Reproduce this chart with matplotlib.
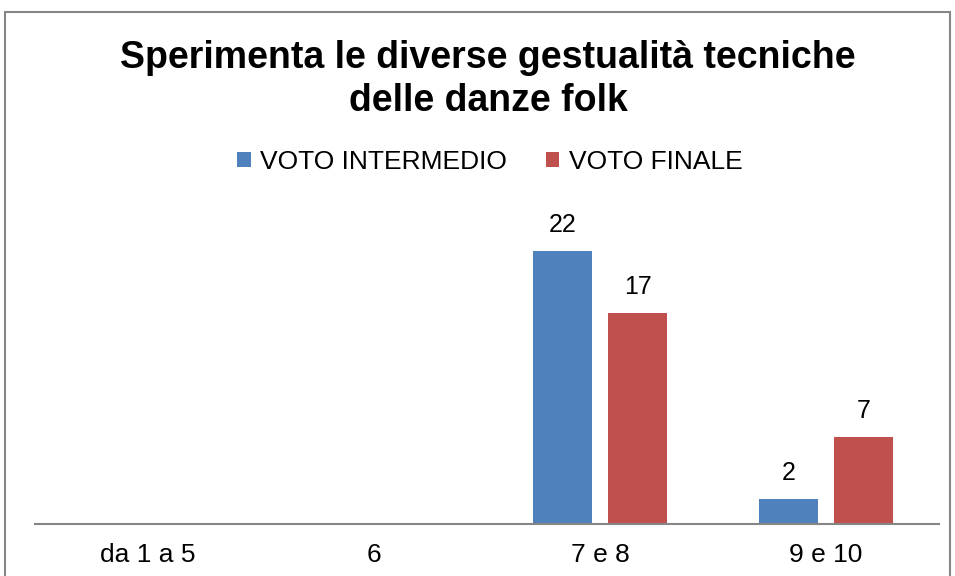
import numpy as np
import matplotlib
matplotlib.use("Agg")
import matplotlib.pyplot as plt
from matplotlib.patches import Rectangle

plt.rcParams["font.family"] = ["Liberation Sans", "DejaVu Sans"]

categories = ["da 1 a 5", "6", "7 e 8", "9 e 10"]
voto_intermedio = [0, 0, 22, 2]
voto_finale = [0, 0, 17, 7]
series_names = ["VOTO INTERMEDIO", "VOTO FINALE"]
colors = ["#4F81BD", "#C0504D"]

fig = plt.figure(figsize=(9.55, 5.76), dpi=100)
W, H = 955, 576

# outer chart border
fig.patches.append(Rectangle((5 / W, -0.01), 945 / W, 1 - 12 / H + 0.01,
                             transform=fig.transFigure, fill=False,
                             edgecolor="#868686", linewidth=1.5))

ax = fig.add_axes([35 / W, (H - 524) / H, 904 / W, 324 / H])
x = np.arange(len(categories))
width = 0.265
offset = 0.166
for vals, name, c, sgn in zip([voto_intermedio, voto_finale], series_names, colors, [-1, 1]):
    bars = ax.bar(x + sgn * offset, vals, width, color=c, label=name)
    for b, v in zip(bars, vals):
        if v > 0:
            ax.text(b.get_x() + b.get_width() / 2, v + 2.1, str(v),
                    ha="center", va="center", fontsize=18)

ax.set_xlim(-0.5, len(categories) - 0.5)
ax.set_ylim(0, 26.1)
ax.set_xticks(x)
ax.set_xticklabels(categories, fontsize=19)
ax.tick_params(axis="x", length=0, pad=14)
ax.set_yticks([])
for s in ["top", "right", "left"]:
    ax.spines[s].set_visible(False)
ax.spines["bottom"].set_color("#868686")
ax.spines["bottom"].set_linewidth(1.5)

fig.text(0.511, 1 - 68 / H, "Sperimenta le diverse gestualità tecniche",
         ha="center", va="baseline", fontsize=27, fontweight="bold")
fig.text(0.511, 1 - 111 / H, "delle danze folk",
         ha="center", va="baseline", fontsize=27, fontweight="bold")

fig.legend(loc="center", bbox_to_anchor=(0.513, 1 - 162 / H), ncol=2,
           frameon=False, fontsize=19, handlelength=0.5, handleheight=0.5,
           handletextpad=0.35, columnspacing=1.5)

fig.savefig("out.png", dpi=100)
